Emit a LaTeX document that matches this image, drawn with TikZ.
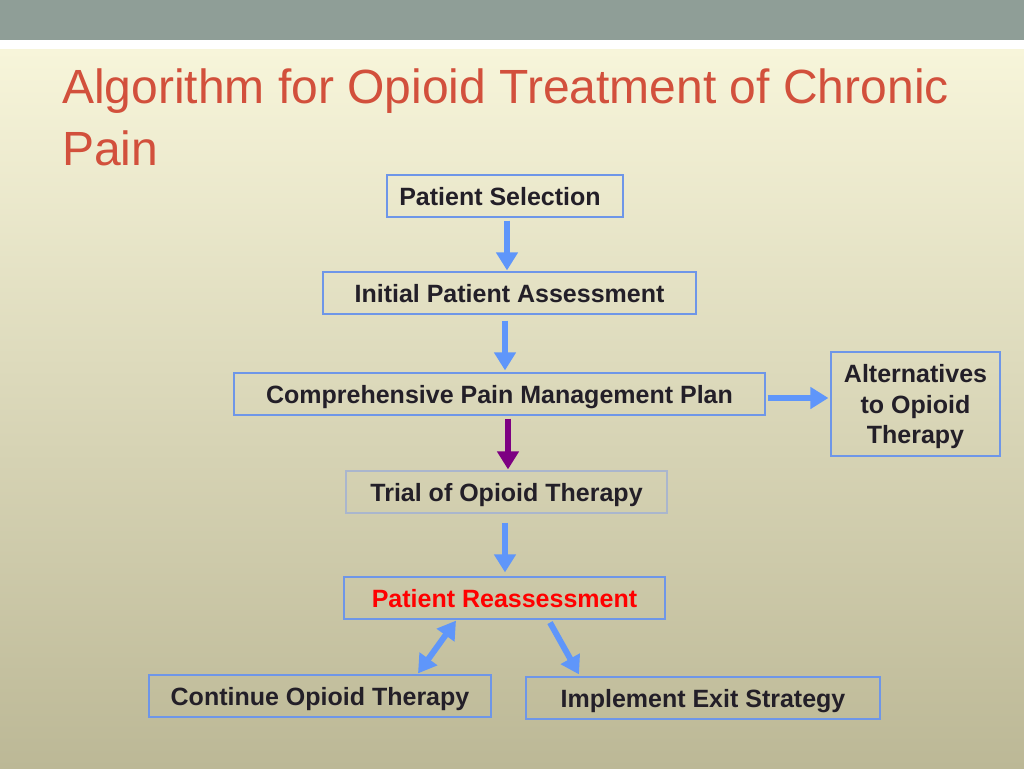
\documentclass[tikz,border=0pt]{standalone}
\usepackage{fontspec}
\setmainfont{Liberation Sans}
\usetikzlibrary{arrows.meta,calc}
\definecolor{barcol}{RGB}{143,158,151}
\definecolor{bgtop}{RGB}{247,245,218}
\definecolor{bgbot}{RGB}{188,184,150}
\definecolor{titlecol}{RGB}{210,80,60}
\definecolor{boxline}{RGB}{110,150,232}
\definecolor{faintline}{RGB}{170,182,205}
\definecolor{arrblue}{RGB}{95,150,250}
\definecolor{arrpurple}{RGB}{125,0,130}
\definecolor{txt}{RGB}{35,31,40}
\begin{document}
\begin{tikzpicture}[x=1pt,y=-1pt,
  box/.style={draw=boxline, line width=1.2pt, inner sep=0pt,
    font=\fontsize{25}{30}\selectfont\bfseries, text=txt, align=center,
    text height=18pt, text depth=0pt, minimum height=42pt},
  altbox/.style={draw=boxline, line width=1.2pt, inner sep=0pt,
    font=\fontsize{25}{30.5}\selectfont\bfseries, text=txt, align=center,
    text depth=0pt, minimum width=169pt, minimum height=104pt},
  tip/.style={-{Triangle[width=21pt,length=18pt]}},
  flow/.style={draw=arrblue, line width=6pt, tip},
  flowp/.style={draw=arrpurple, line width=6pt, tip},
  flowboth/.style={draw=arrblue, line width=6pt, {Triangle[width=21pt,length=18pt]}-{Triangle[width=21pt,length=18pt]}},
  title/.style={anchor=base west, inner sep=0pt, text=titlecol, font=\fontsize{48}{62}\selectfont}
]
\useasboundingbox (0,0) rectangle (1024,768);
\fill[barcol] (0,0) rectangle (1024,40);
\fill[white] (0,40) rectangle (1024,50);
\shade[top color=bgtop, bottom color=bgbot] (0,50) rectangle (1024,768);

\node[title] (t1) at (62,103) {Algorithm for Opioid Treatment of Chronic};
\node[title] (t2) at (62,165) {Pain};

\node[box, minimum width=236pt] (ps) at (505,196) {Patient Selection\hspace*{10pt}};
\node[box, minimum width=373pt] (ipa) at (509.5,293) {Initial Patient Assessment};
\node[box, minimum width=531pt] (cpmp) at (499.5,394) {Comprehensive Pain Management Plan};
\node[altbox] (alt) at (915.5,404) {Alternatives\\to Opioid\\Therapy};
\node[box, draw=faintline, minimum width=321pt] (trial) at (506.5,492) {Trial of Opioid Therapy};
\node[box, text=red, minimum width=321pt] (ra) at (504.5,598) {Patient Reassessment};
\node[box, minimum width=342pt] (cont) at (320,696) {Continue Opioid Therapy};
\node[box, minimum width=354pt] (exit) at (703,698) {Implement Exit Strategy};

\draw[flow] ($(ps.south)+(2,3)$) -- ($(ipa.north)+(-2.5,-1)$);
\draw[flow] ($(ipa.south)+(-4.5,6)$) -- ($(cpmp.north)+(5.5,-2)$);
\draw[flow] ($(cpmp.east)+(2,4)$) -- ($(alt.west)+(-2,-6)$);
\draw[flowp] ($(cpmp.south)+(8.5,3)$) -- ($(trial.north)+(1.5,-1)$);
\draw[flow] ($(trial.south)+(-1.5,9)$) -- ($(ra.north)+(0.5,-4)$);
\draw[flowboth] ($(ra.south)+(-48.5,1)$) -- ($(cont.north)+(98,-1)$);
\draw[flow] ($(ra.south)+(45.5,3)$) -- ($(exit.north)+(-124,-2)$);
\end{tikzpicture}
\end{document}
